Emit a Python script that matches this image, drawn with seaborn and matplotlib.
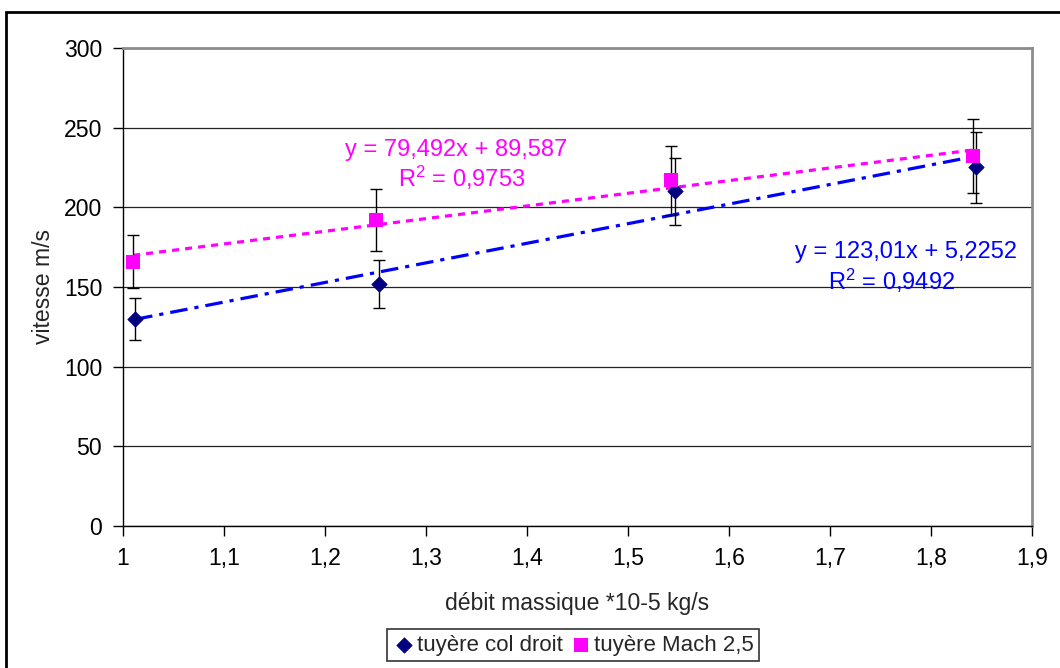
import matplotlib
matplotlib.use("Agg")
import matplotlib.pyplot as plt
from matplotlib.patches import Rectangle
import numpy as np
import pandas as pd
import seaborn as sns

# Measurements: mass flow (x 1e-5 kg/s) vs. velocity (m/s)
flow_col_droit = [1.012, 1.253, 1.547, 1.845]
speed_col_droit = [130, 152, 210, 225]
err_col_droit = [13.0, 15.2, 21.0, 22.5]

flow_mach = [1.010, 1.250, 1.543, 1.842]
speed_mach = [166, 192, 217, 232]
err_mach = [16.6, 19.2, 21.7, 23.2]

# Linear trendlines
slope_col_droit, icpt_col_droit, r2_col_droit = 123.01, 5.2252, 0.9492
slope_mach, icpt_mach, r2_mach = 79.492, 89.587, 0.9753

x_ticks = [1.0, 1.1, 1.2, 1.3, 1.4, 1.5, 1.6, 1.7, 1.8, 1.9]
x_tick_labels = ["1", "1,1", "1,2", "1,3", "1,4", "1,5", "1,6", "1,7", "1,8", "1,9"]
y_ticks = [0, 50, 100, 150, 200, 250, 300]

label_col_droit = "tuyère col droit"
label_mach = "tuyère Mach 2,5"

NAVY = "#000080"
BLUE = "#0000FF"
MAGENTA = "#FF00FF"

sns.set_style("white")
plt.rcParams["font.family"] = ["Liberation Sans", "DejaVu Sans"]
plt.rcParams["font.size"] = 16
plt.rcParams["mathtext.fontset"] = "custom"
plt.rcParams["mathtext.rm"] = "Liberation Sans"
plt.rcParams["mathtext.it"] = "Liberation Sans"
plt.rcParams["mathtext.default"] = "regular"

FS = 16.6

fig = plt.figure(figsize=(10.6, 6.68), dpi=100)
ax = fig.add_axes([123 / 1060, 1 - 526 / 668, (1032 - 123) / 1060, (526 - 48) / 668])


def fmt(v):
    return f"{v}".replace(".", ",")


# Trendlines over the span of each data series
tx_cd = np.array([min(flow_col_droit), max(flow_col_droit)])
tx_m = np.array([min(flow_mach), max(flow_mach)])
trend = pd.DataFrame({
    "x": np.concatenate([tx_m, tx_cd]),
    "y": np.concatenate([slope_mach * tx_m + icpt_mach,
                         slope_col_droit * tx_cd + icpt_col_droit]),
    "serie": ["mach"] * 2 + ["cd"] * 2,
})
sns.lineplot(data=trend[trend.serie == "mach"], x="x", y="y", ax=ax,
             color=MAGENTA, lw=2.3, legend=False, zorder=2)
ax.lines[-1].set_dashes((2.2, 1.9))
sns.lineplot(data=trend[trend.serie == "cd"], x="x", y="y", ax=ax,
             color=BLUE, lw=2.3, legend=False, zorder=2)
ax.lines[-1].set_dashes((5.5, 2.2, 1.3, 2.2))

# Error bars
ax.errorbar(flow_col_droit, speed_col_droit, yerr=err_col_droit, fmt="none",
            ecolor="black", elinewidth=1, capsize=4.5, capthick=1, zorder=3)
ax.errorbar(flow_mach, speed_mach, yerr=err_mach, fmt="none",
            ecolor="black", elinewidth=1, capsize=4.5, capthick=1, zorder=3)

# Markers
sns.scatterplot(x=flow_col_droit, y=speed_col_droit, ax=ax, marker="D", s=62,
                color=NAVY, edgecolor=NAVY, linewidth=0.5, zorder=4,
                label=label_col_droit)
sns.scatterplot(x=flow_mach, y=speed_mach, ax=ax, marker="s", s=100,
                color=MAGENTA, edgecolor=MAGENTA, linewidth=0, zorder=4,
                label=label_mach)

# Trendline equations
ax.text(1.3297, 232.3, f"y = {fmt(slope_mach)}x + {fmt(icpt_mach)}",
        color=MAGENTA, ha="center", va="baseline", fontsize=FS + 0.4)
ax.text(1.3356, 213.0, f"R$^2$ = {fmt(r2_mach)}",
        color=MAGENTA, ha="center", va="baseline", fontsize=FS + 0.4)
ax.text(1.7752, 168.0, f"y = {fmt(slope_col_droit)}x + {fmt(icpt_col_droit)}",
        color=BLUE, ha="center", va="baseline", fontsize=FS + 0.4)
ax.text(1.7614, 148.1, f"R$^2$ = {fmt(r2_col_droit)}",
        color=BLUE, ha="center", va="baseline", fontsize=FS + 0.4)

# Axes
ax.set_xlim(1.0, 1.9)
ax.set_ylim(0, 300)
ax.set_xticks(x_ticks)
ax.set_xticklabels(x_tick_labels)
ax.set_yticks(y_ticks)
ax.set_yticklabels([str(v) for v in y_ticks])
ax.tick_params(axis="both", direction="out", length=7, width=1, color="black",
               labelsize=FS, labelcolor="black", pad=8,
               bottom=True, left=True)
ax.yaxis.grid(True, color="#222222", lw=0.9)
ax.xaxis.grid(False)
ax.set_axisbelow(True)
for side in ("left", "bottom"):
    ax.spines[side].set_color("black")
    ax.spines[side].set_linewidth(1.0)
for side in ("top", "right"):
    ax.spines[side].set_color("#8c8c8c")
    ax.spines[side].set_linewidth(2.0)
for s in ax.spines.values():
    s.set_visible(True)

ax.set_xlabel("débit massique *10-5 kg/s", fontsize=FS, labelpad=16)
ax.set_ylabel("vitesse m/s", fontsize=FS, labelpad=6)

# Legend below the plot
if ax.legend_:
    ax.legend_.remove()
handles, labels = ax.get_legend_handles_labels()
leg = fig.legend(handles, labels, loc="center", ncol=2,
                 bbox_to_anchor=(573 / 1060, 1 - 645 / 668),
                 frameon=True, fancybox=False, edgecolor="black",
                 fontsize=16, handletextpad=0.1, columnspacing=0.3,
                 handlelength=1.0, borderpad=0.25, borderaxespad=0)
leg.get_frame().set_linewidth(1.2)

# Outer chart frame
fig.patches.append(Rectangle((6 / 1060, -0.1), 1.2, (668 - 12) / 668 + 0.1,
                             transform=fig.transFigure, fill=False,
                             edgecolor="black", lw=2.0))

fig.savefig("out.png", dpi=100)
